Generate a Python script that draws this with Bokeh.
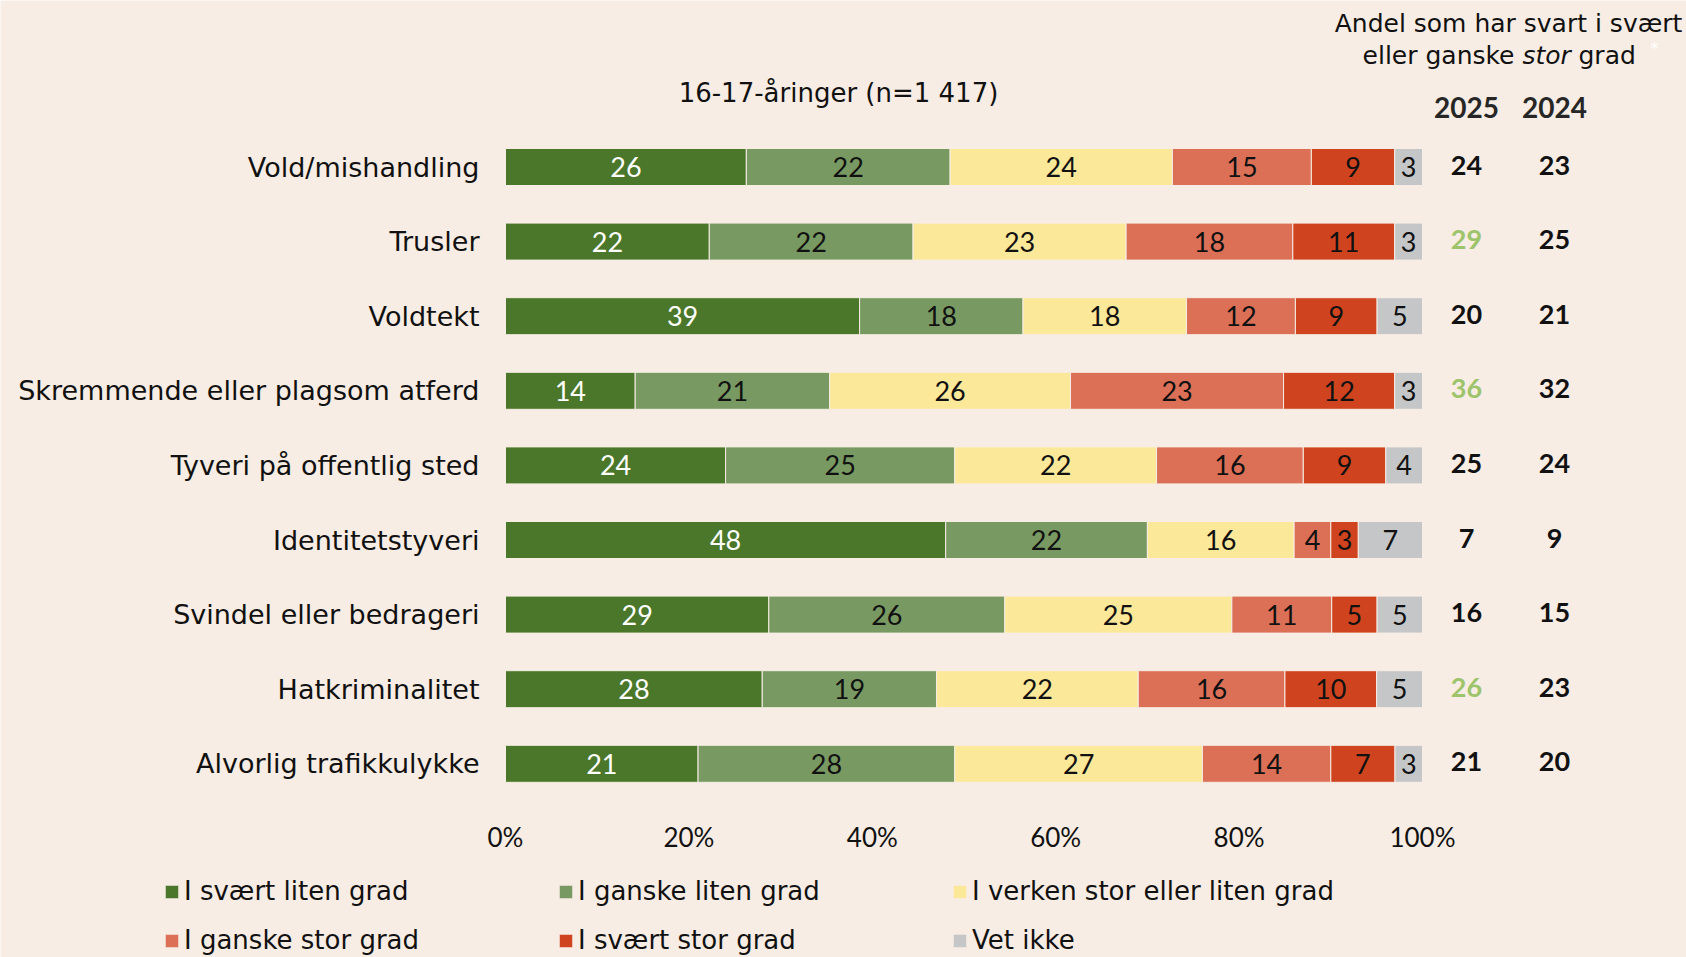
from bokeh.plotting import figure
from bokeh.models import Range1d, FixedTicker, ColumnDataSource, Legend, LegendItem
from bokeh.core.properties import value
from bokeh.embed import file_html
from bokeh.resources import INLINE

FONT = "DejaVu Sans"
NUMFONT = "Lato"

categories = ["Vold/mishandling", "Trusler", "Voldtekt", "Skremmende eller plagsom atferd",
              "Tyveri på offentlig sted", "Identitetstyveri", "Svindel eller bedrageri",
              "Hatkriminalitet", "Alvorlig trafikkulykke"]
series_names = ["I svært liten grad", "I ganske liten grad", "I verken stor eller liten grad",
                "I ganske stor grad", "I svært stor grad", "Vet ikke"]
svaert_liten = [26, 22, 39, 14, 24, 48, 29, 28, 21]
ganske_liten = [22, 22, 18, 21, 25, 22, 26, 19, 28]
verken = [24, 23, 18, 26, 22, 16, 25, 22, 27]
ganske_stor = [15, 18, 12, 23, 16, 4, 11, 16, 14]
svaert_stor = [9, 11, 9, 12, 9, 3, 5, 10, 7]
vet_ikke = [3, 3, 5, 3, 4, 7, 5, 5, 3]
andel_2025 = [24, 29, 20, 36, 25, 7, 16, 26, 21]
andel_2024 = [23, 25, 21, 32, 24, 9, 15, 23, 20]
increase_2025 = [False, True, False, True, False, False, False, True, False]
x_ticks = [0, 20, 40, 60, 80, 100]
x_tick_labels = ["0%", "20%", "40%", "60%", "80%", "100%"]

colors = ["#4a7729", "#789a62", "#fbe899", "#db7057", "#cf441f", "#c5c6c8"]
label_colors = ["white", "#111111", "#111111", "#111111", "#111111", "#111111"]
BG = "#f7ede4"
TXT = "#111111"

series = [svaert_liten, ganske_liten, verken, ganske_stor, svaert_stor, vet_ikke]

W, H = 1686, 957
X0 = 505.0        # px of 0 %
PX100 = 917.0     # px for 100 %
ROW0 = 166.5      # px of first bar centre
ROWH = 74.6       # px between bars

def px_x(px):
    return (px - X0) / PX100 * 100
def px_y(py):
    return (py - ROW0) / ROWH

p = figure(width=W, height=H, output_backend="svg", toolbar_location=None,
           x_range=Range1d(px_x(0), px_x(W)), y_range=Range1d(px_y(H), px_y(0)),
           min_border=0, min_border_left=0, min_border_right=0, min_border_top=0, min_border_bottom=0,
           background_fill_color=BG, border_fill_color=BG, outline_line_color=None)
p.grid.visible = False

ys = list(range(len(categories)))
renderers = []
for k, vals in enumerate(series):
    lefts, rights, mids, txts = [], [], [], []
    for i in range(len(categories)):
        tot = sum(s[i] for s in series)
        start = sum(series[j][i] for j in range(k)) * 100.0 / tot
        end = start + vals[i] * 100.0 / tot
        lefts.append(start); rights.append(end); mids.append((start + end) / 2)
        txts.append(str(vals[i]))
    src = ColumnDataSource(dict(y=ys, left=lefts, right=rights, mid=mids, txt=txts))
    r = p.hbar(y="y", left="left", right="right", height=0.496, source=src,
               fill_color=colors[k], line_color=BG, line_width=1)
    renderers.append(r)
    p.text(x="mid", y="y", text="txt", source=src, text_align="center", text_baseline="middle",
           text_font=value(NUMFONT), text_font_size="27px", text_color=label_colors[k],
           y_offset=0)

# right-hand columns
x25 = px_x(1466)
x24 = px_x(1554)
col25 = ["#9dc46b" if inc else TXT for inc in increase_2025]
src_r = ColumnDataSource(dict(y=ys, a=[str(v) for v in andel_2025], b=[str(v) for v in andel_2024], c=col25))
p.text(x=x25, y="y", text="a", source=src_r, text_color="c", text_align="center", text_baseline="middle",
       text_font=value(NUMFONT), text_font_size="27px", text_font_style="bold", y_offset=-2)
p.text(x=x24, y="y", text="b", source=src_r, text_color=TXT, text_align="center", text_baseline="middle",
       text_font=value(NUMFONT), text_font_size="27px", text_font_style="bold", y_offset=-2)

# headers
p.text(x=[x25, x24], y=[px_y(107)] * 2, text=["2025", "2024"], text_align="center", text_baseline="middle",
       text_font=value(NUMFONT), text_font_size="28px", text_font_style="bold", text_color="#262626")
p.text(x=[px_x(1508)], y=[px_y(23)], text=["Andel som har svart i svært"], text_align="center",
       text_baseline="middle", text_font=value(FONT), text_font_size="25px", text_color=TXT)
p.text(x=[px_x(1514)], y=[px_y(55)], text=["eller ganske"], text_align="right",
       text_baseline="middle", text_font=value(FONT), text_font_size="25px", text_color=TXT)
p.text(x=[px_x(1522)], y=[px_y(55)], text=["stor"], text_align="left",
       text_baseline="middle", text_font=value(FONT), text_font_size="25px", text_font_style="italic",
       text_color=TXT)
p.text(x=[px_x(1578)], y=[px_y(55)], text=["grad"], text_align="left",
       text_baseline="middle", text_font=value(FONT), text_font_size="25px", text_color=TXT)
p.text(x=[px_x(1650)], y=[px_y(48)], text=["*"], text_align="left",
       text_baseline="middle", text_font=value(FONT), text_font_size="16px", text_color="#ffffff")
p.text(x=[px_x(838)], y=[px_y(92.5)], text=["16-17-åringer (n=1 417)"], text_align="center",
       text_baseline="middle", text_font=value(FONT), text_font_size="26px", text_color=TXT)

# axes (fixed inside the frame so that they take no extra room)
p.yaxis.fixed_location = 0
p.yaxis.ticker = FixedTicker(ticks=ys)
p.yaxis.major_label_overrides = {i: c for i, c in enumerate(categories)}
p.yaxis.axis_line_color = None
p.yaxis.major_tick_line_color = None
p.yaxis.minor_tick_line_color = None
p.yaxis.major_label_standoff = 20
p.yaxis.major_label_text_font = FONT
p.yaxis.major_label_text_font_size = "27px"
p.yaxis.major_label_text_color = TXT

p.xaxis.fixed_location = px_y(800)
p.xaxis.ticker = FixedTicker(ticks=x_ticks)
p.xaxis.major_label_overrides = {t: l for t, l in zip(x_ticks, x_tick_labels)}
p.xaxis.axis_line_color = None
p.xaxis.major_tick_line_color = None
p.xaxis.minor_tick_line_color = None
p.xaxis.major_label_standoff = 14
p.xaxis.major_label_text_font = NUMFONT
p.xaxis.major_label_text_font_size = "26px"
p.xaxis.major_label_text_color = TXT

legend = Legend(items=[LegendItem(label=series_names[k], renderers=[renderers[k]]) for k in range(6)],
                ncols=3, location=(163, 0), orientation="horizontal",
                background_fill_alpha=0, border_line_color=None,
                label_text_font=FONT, label_text_font_size="26px", label_text_color=TXT,
                glyph_width=17, glyph_height=17, label_standoff=4, label_width=358,
                spacing=15, padding=0, margin=0, label_height=34)
p.add_layout(legend, "center")

open("out.html", "w").write(file_html(p, INLINE))
